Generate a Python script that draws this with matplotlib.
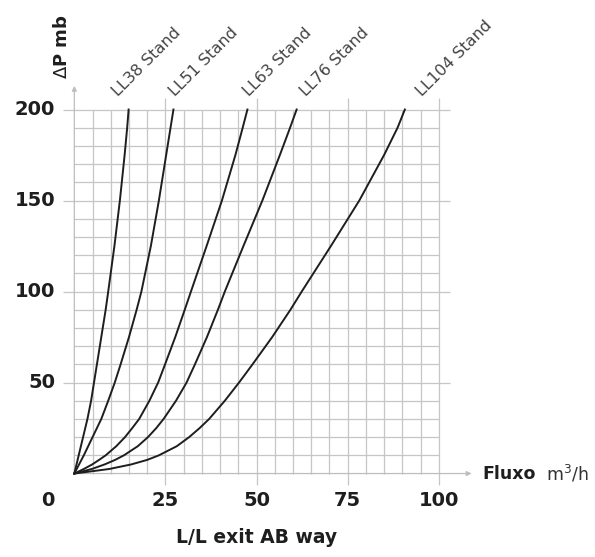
import numpy as np
import matplotlib.pyplot as plt

plt.rcParams['font.family'] = ['DejaVu Sans']

# pressure drop levels (mb) at which the flow of each curve was read
dp_levels = [0, 2.5, 5, 7.5, 10, 15, 20, 25, 30, 40, 50, 60, 75, 90, 100,
             125, 150, 175, 190, 200]

# flow (m3/h) of each valve size at those pressure levels
flow_ll38 = [0, 0.3, 0.6, 0.9, 1.2, 1.8, 2.4, 3.0, 3.6, 4.6, 5.4, 6.2, 7.4,
             8.6, 9.3, 11.0, 12.5, 13.8, 14.5, 14.9]
flow_ll51 = [0, 0.65, 1.3, 1.95, 2.6, 3.8, 5.0, 6.2, 7.4, 9.3, 11.1, 12.7,
             15.0, 17.1, 18.4, 21.0, 23.2, 25.2, 26.4, 27.2]
flow_ll63 = [0, 2.6, 4.9, 6.8, 8.6, 11.5, 13.9, 15.9, 17.8, 20.6, 23.0, 24.9,
             27.7, 30.3, 32.0, 36.3, 40.5, 44.2, 46.2, 47.5]
flow_ll76 = [0, 4.8, 8.3, 11.2, 13.6, 17.4, 20.2, 22.5, 24.5, 27.9, 30.8,
             33.1, 36.4, 39.4, 41.3, 46.4, 51.6, 56.4, 59.2, 61.0]
flow_ll104 = [0, 9.6, 15.6, 20.0, 23.2, 28.1, 31.5, 34.4, 37.0, 41.3, 45.2,
              48.9, 54.3, 59.3, 62.4, 70.4, 78.2, 85.0, 88.7, 90.7]

series_names = ["LL38 Stand", "LL51 Stand", "LL63 Stand", "LL76 Stand", "LL104 Stand"]
x_ticks = [0, 25, 50, 75, 100]
y_ticks = [50, 100, 150, 200]

GRID = '#c6c6c6'
INK = '#1e1e1e'

fig = plt.figure(figsize=(5.95, 5.57), dpi=100)
ax = fig.add_axes([0.0943, 0.1237, 0.7166, 0.7287])
ax.set_xlim(-5, 112)
ax.set_ylim(-8, 215)
ax.axis('off')

# fine grid
minor_x = [v for v in range(5, 100, 5) if v % 25]
minor_y = [v for v in range(10, 200, 10) if v % 50]
ax.vlines(minor_x, 0, 200, color=GRID, lw=0.9, zorder=1)
ax.hlines(minor_y, 0, 100, color=GRID, lw=0.9, zorder=1)
# major lines stick out a little past the grid
ax.vlines(x_ticks[1:], -6.3, 206.6, color=GRID, lw=0.9, zorder=1)
ax.hlines(y_ticks, -3, 103, color=GRID, lw=0.9, zorder=1)

# axes with small arrow heads
arrow = dict(arrowstyle='-|>', color='#bdbdbd', lw=0.9, mutation_scale=7,
             shrinkA=0, shrinkB=0)
ax.annotate('', xy=(109, 0), xytext=(0, 0), arrowprops=arrow, zorder=2)
ax.annotate('', xy=(0, 213), xytext=(0, 0), arrowprops=arrow, zorder=2)

flows = [flow_ll38, flow_ll51, flow_ll63, flow_ll76, flow_ll104]
label_x = [11.9, 27.6, 47.9, 63.7, 95.3]
for name, flow, lx in zip(series_names, flows, label_x):
    ax.plot(flow, dp_levels, color=INK, lw=1.4, zorder=3,
            solid_joinstyle='round')
    ax.text(lx, 207.0, name, rotation=45, rotation_mode='anchor', ha='left',
            va='baseline', fontsize=11.5, color='#444444', clip_on=False)

# tick labels
for v in y_ticks:
    ax.text(-5.3, v, str(v), ha='right', va='center', fontsize=14,
            fontweight='bold', color=INK)
for v in x_ticks:
    xpos = -7.2 if v == 0 else v
    ax.text(xpos, -15, str(v), ha='center', va='center', fontsize=14,
            fontweight='bold', color=INK)

ax.text(-3.3, 217, r'$\Delta$P mb', rotation=90, ha='center', va='bottom',
        fontsize=13, fontweight='bold', color=INK, clip_on=False)
ax.text(112.1, 0, 'Fluxo', ha='left', va='center', fontsize=12.5,
        fontweight='bold', color=INK, clip_on=False)
ax.text(129.5, 0, r'm$^3$/h', ha='left', va='center', fontsize=12.5,
        color='#333333', clip_on=False)
ax.text(50, -35, 'L/L exit AB way', ha='center', va='center', fontsize=13.5,
        fontweight='bold', color=INK, clip_on=False)

fig.savefig('out.png', dpi=100)
